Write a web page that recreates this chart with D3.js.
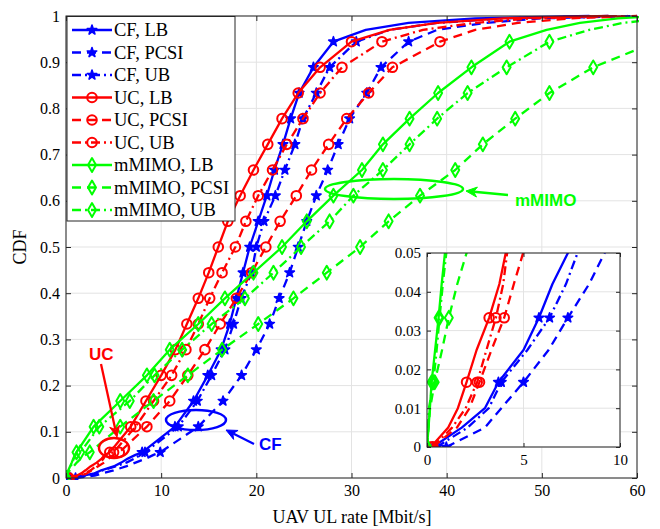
<!DOCTYPE html>
<html><head><meta charset="utf-8">
<script src="https://cdn.jsdelivr.net/npm/d3@7"></script>
<style>body{margin:0;background:#fff}svg{display:block}</style>
</head><body>
<svg id="c" width="660" height="529"></svg>
<script>
// CDF levels at which each series' rate (x, Mbit/s) is given
const insetLevels = [0, 0.005, 0.01, 0.0167, 0.025, 0.0333, 0.042, 0.05];
const mainLevels = [0.0556, 0.1111, 0.1667, 0.2222, 0.2778, 0.3333, 0.3889, 0.4444, 0.5,
  0.5556, 0.6111, 0.6667, 0.7222, 0.7778, 0.8333, 0.8889, 0.9444];
const tailLevels = [0.97, 0.985, 0.995, 1];

const cfLB   = [0.3, 1.8, 3.0, 3.7, 5.0, 5.8, 6.5, 7.3,
  8.0, 11.45, 13.4, 14.9, 16.3, 17.2, 17.9, 18.6, 19.3, 20.2, 21.1, 21.9, 22.8, 23.6, 24.5, 26.0, 28.1,
  31.5, 36, 43, 55];
const cfPCSI = [1.0, 3.0, 3.85, 5.0, 6.3, 7.3, 8.4, 9.2,
  9.9, 13.9, 16.5, 18.45, 20.0, 21.4, 22.4, 23.5, 24.4, 25.3, 26.3, 27.5, 28.6, 29.8, 31.6, 33.1, 36.0,
  39, 44, 50, 60];
const cfUB   = [0.5, 2.1, 3.2, 3.85, 5.2, 6.35, 7.2, 7.8,
  8.3, 11.8, 13.8, 15.3, 16.7, 17.6, 18.4, 19.5, 20.0, 20.8, 22.0, 23.0, 24.05, 24.9, 26.3, 27.7, 30.5,
  34, 39, 46, 57];
const ucLB   = [0.2, 1.1, 1.6, 2.05, 2.57, 3.22, 3.75, 4.08,
  4.6, 6.8, 8.4, 10.0, 11.5, 12.7, 13.9, 15.0, 16.0, 17.0, 18.3, 19.7, 21.2, 22.7, 24.4, 26.7, 30.0,
  34, 39, 46, 57];
const ucPCSI = [0.3, 1.55, 2.2, 2.72, 3.34, 4.0, 4.5, 4.98,
  5.6, 8.5, 10.9, 12.8, 14.6, 16.2, 17.9, 19.5, 21.0, 22.5, 24.2, 25.8, 27.6, 29.5, 31.8, 34.3, 39.3,
  43, 47.5, 53, 60];
const ucUB   = [0.3, 1.3, 2.0, 2.6, 3.08, 3.57, 3.95, 4.15,
  5.0, 7.3, 9.2, 11.1, 12.6, 13.9, 15.1, 16.4, 17.8, 18.9, 20.2, 21.7, 23.2, 24.9, 26.7, 29.0, 33.2,
  37.5, 43, 49, 59];
const mmLB   = [0, 0.08, 0.15, 0.24, 0.42, 0.6, 0.76, 0.93,
  1.1, 2.9, 5.7, 8.5, 10.9, 13.9, 16.7, 19.7, 22.7, 25.3, 28.1, 31.1, 33.3, 36.1, 39.1, 42.6, 46.6,
  50.5, 54, 58, 62];
const mmPCSI = [0, 0.08, 0.16, 0.4, 0.78, 1.13, 1.57, 2.05,
  2.5, 5.7, 9.2, 12.8, 16.4, 20.2, 23.9, 27.4, 30.9, 33.9, 37.2, 40.9, 43.8, 47.2, 50.8, 55.4, 62.0,
  67, 71, 75, 80];
const mmUB   = [0, 0.05, 0.1, 0.33, 0.5, 0.65, 0.82, 1.0,
  1.5, 3.5, 6.7, 9.3, 12.2, 15.3, 18.8, 21.8, 24.7, 27.7, 30.2, 33.3, 36.1, 39.0, 42.2, 46.3, 50.8,
  55, 58.5, 63, 67];

const seriesNames = ["CF, LB","CF, PCSI","CF, UB","UC, LB","UC, PCSI","UC, UB","mMIMO, LB","mMIMO, PCSI","mMIMO, UB"];
const seriesValues = [cfLB, cfPCSI, cfUB, ucLB, ucPCSI, ucUB, mmLB, mmPCSI, mmUB];
const xTicks = [0,10,20,30,40,50,60];
const yTicks = [0,0.1,0.2,0.3,0.4,0.5,0.6,0.7,0.8,0.9,1];
const insetXTicks = [0,5,10];
const insetYTicks = [0,0.01,0.02,0.03,0.04,0.05];

const allLevels = insetLevels.concat(mainLevels, tailLevels);
const colors = {CF:"#0000ff", UC:"#ff0000", mMIMO:"#00ff00"};
const dashes = {LB:null, PCSI:"9,6", UB:"9,4,2,4"};
const markerOf = {CF:"star", UC:"circle", mMIMO:"diamond"};

const series = seriesNames.map((n,i)=>{
  const [sys, kind] = n.split(", ");
  return {name:n, color:colors[sys], dash:dashes[kind], marker:markerOf[sys],
    pts: seriesValues[i].map((v,j)=>[v, allLevels[j]])};
});

const svg = d3.select("#c");
const W=660,H=529;
const x = d3.scaleLinear([0,60],[66,637]);
const y = d3.scaleLinear([0,1],[478,16]);
const xi = d3.scaleLinear([0,10],[427,620]);
const yi = d3.scaleLinear([0,0.05],[447,253]);
const axisColor = "#262626", gridColor = "#e3e3e3";
const serif = "'Liberation Serif','Times New Roman',serif";

svg.append("rect").attr("width",W).attr("height",H).attr("fill","#fff");

function grid(g, xs, ys, xt, yt){
  g.selectAll(".gx").data(xt).join("line").attr("x1",d=>xs(d)).attr("x2",d=>xs(d))
    .attr("y1",ys.range()[0]).attr("y2",ys.range()[1]).attr("stroke",gridColor).attr("stroke-width",1);
  g.selectAll(".gy").data(yt).join("line").attr("y1",d=>ys(d)).attr("y2",d=>ys(d))
    .attr("x1",xs.range()[0]).attr("x2",xs.range()[1]).attr("stroke",gridColor).attr("stroke-width",1);
}
grid(svg.append("g"), x, y, xTicks, yTicks);

function axes(g, xs, ys, xt, yt, fs, tl){
  const [x0,x1]=xs.range(), [y0,y1]=ys.range();
  g.append("g").attr("transform",`translate(0,${y0})`)
    .call(d3.axisBottom(xs).tickValues(xt).tickSizeInner(-tl).tickSizeOuter(0).tickPadding(7).tickFormat(d3.format("")));
  g.append("g").attr("transform",`translate(0,${y1})`)
    .call(d3.axisTop(xs).tickValues(xt).tickSizeInner(-tl).tickSizeOuter(0).tickFormat(""));
  g.append("g").attr("transform",`translate(${x0},0)`)
    .call(d3.axisLeft(ys).tickValues(yt).tickSizeInner(-tl).tickSizeOuter(0).tickPadding(6).tickFormat(d3.format("")));
  g.append("g").attr("transform",`translate(${x1},0)`)
    .call(d3.axisRight(ys).tickValues(yt).tickSizeInner(-tl).tickSizeOuter(0).tickFormat(""));
  g.selectAll(".domain").remove();
  g.selectAll(".tick line").attr("stroke",axisColor);
  g.selectAll(".tick text").attr("font-family",serif).attr("font-size",fs).attr("fill","#000");
  g.append("rect").attr("x",x0).attr("y",y1).attr("width",x1-x0).attr("height",y0-y1)
    .attr("fill","none").attr("stroke",axisColor).attr("stroke-width",1);
}

const defs = svg.append("defs");
defs.append("clipPath").attr("id","cm").append("rect").attr("x",66).attr("y",14).attr("width",573).attr("height",466);
defs.append("clipPath").attr("id","ci").append("rect").attr("x",427).attr("y",253).attr("width",193).attr("height",194);

function symbolFor(m){
  if(m==="star") return d3.symbol(d3.symbolStar, 28)();
  if(m==="circle") return d3.symbol(d3.symbolCircle, 72)();
  return d3.symbol(d3.symbolDiamond, 55)();
}

function drawSeries(g, xs, ys, s, pts, markerPts){
  g.append("path").datum(pts).attr("d", d3.line().x(d=>xs(d[0])).y(d=>ys(d[1])))
    .attr("fill","none").attr("stroke",s.color).attr("stroke-width",2.3)
    .attr("stroke-dasharray",s.dash).attr("stroke-linejoin","round");
  g.selectAll(null).data(markerPts).join("path")
    .attr("transform",d=>`translate(${xs(d[0])},${ys(d[1])})`)
    .attr("d",symbolFor(s.marker))
    .attr("fill", s.marker==="star" ? s.color : "none")
    .attr("stroke",s.color).attr("stroke-width", s.marker==="star"?1.6:2).attr("stroke-linejoin","round");
}

const gm = svg.append("g").attr("clip-path","url(#cm)");
const mainMarkerLevels = [0].concat(mainLevels);
series.forEach(s=>{
  const mk = s.pts.filter(p=>mainMarkerLevels.includes(p[1]));
  drawSeries(gm, x, y, s, s.pts, mk);
});

axes(svg.append("g"), x, y, xTicks, yTicks, 16, 5);

svg.append("text").attr("x",352).attr("y",523).attr("text-anchor","middle")
  .attr("font-family",serif).attr("font-size",18).text("UAV UL rate [Mbit/s]");
svg.append("text").attr("transform","translate(26,247) rotate(-90)").attr("text-anchor","middle")
  .attr("font-family",serif).attr("font-size",18).text("CDF");

const sans = "'Liberation Sans',Arial,sans-serif";
function arrow(x1,y1,x2,y2,color){
  const ang = Math.atan2(y2-y1,x2-x1), L=11, w=5;
  const bx = x2 - L*Math.cos(ang), by = y2 - L*Math.sin(ang);
  svg.append("line").attr("x1",x1).attr("y1",y1).attr("x2",bx+3*Math.cos(ang)).attr("y2",by+3*Math.sin(ang))
    .attr("stroke",color).attr("stroke-width",2.3);
  const px=-Math.sin(ang), py=Math.cos(ang);
  const pts=[[x2,y2],[bx+w*px,by+w*py],[x2-L*0.7*Math.cos(ang),y2-L*0.7*Math.sin(ang)],[bx-w*px,by-w*py]];
  svg.append("path").attr("d","M"+pts.map(p=>p.join(",")).join("L")+"Z").attr("fill",color).attr("stroke",color).attr("stroke-width",1);
}
svg.append("ellipse").attr("cx",394).attr("cy",189).attr("rx",69).attr("ry",10)
  .attr("fill","none").attr("stroke",colors.mMIMO).attr("stroke-width",2.5);
arrow(508,195,466,191,colors.mMIMO);
svg.append("text").attr("x",515).attr("y",206).attr("font-family",sans).attr("font-weight","bold")
  .attr("font-size",17).attr("fill",colors.mMIMO).text("mMIMO");

svg.append("ellipse").attr("cx",196).attr("cy",420).attr("rx",30).attr("ry",10)
  .attr("fill","none").attr("stroke",colors.CF).attr("stroke-width",2.5);
arrow(254,444,226,430,colors.CF);
svg.append("text").attr("x",259).attr("y",450).attr("font-family",sans).attr("font-weight","bold")
  .attr("font-size",17).attr("fill",colors.CF).text("CF");

svg.append("ellipse").attr("cx",114).attr("cy",448).attr("rx",15).attr("ry",10)
  .attr("fill","none").attr("stroke",colors.UC).attr("stroke-width",2.5);
arrow(101,364,117,437,colors.UC);
svg.append("text").attr("x",89).attr("y",360).attr("font-family",sans).attr("font-weight","bold")
  .attr("font-size",17).attr("fill",colors.UC).text("UC");

svg.append("rect").attr("x",427).attr("y",253).attr("width",193).attr("height",194).attr("fill","#fff");
grid(svg.append("g"), xi, yi, insetXTicks, insetYTicks);
const gi = svg.append("g").attr("clip-path","url(#ci)");
const insetMarkerLevels = [0, 0.0167, 0.0333];
series.forEach(s=>{
  const pts = s.pts.filter(p=>p[1]<=0.0556);
  const mk = s.pts.filter(p=>insetMarkerLevels.includes(p[1]));
  drawSeries(gi, xi, yi, s, pts, mk);
});
axes(svg.append("g"), xi, yi, insetXTicks, insetYTicks, 15, 4);

const lg = svg.append("g");
lg.append("rect").attr("x",67).attr("y",16.5).attr("width",168).attr("height",204.5)
  .attr("fill","#fff").attr("stroke",axisColor).attr("stroke-width",1);
series.forEach((s,i)=>{
  const cy = 30 + i*22.5;
  lg.append("line").attr("x1",72).attr("x2",112).attr("y1",cy).attr("y2",cy)
    .attr("stroke",s.color).attr("stroke-width",2.3).attr("stroke-dasharray",s.dash);
  lg.append("path").attr("transform",`translate(92,${cy})`).attr("d",symbolFor(s.marker))
    .attr("fill", s.marker==="star" ? s.color : "none")
    .attr("stroke",s.color).attr("stroke-width", s.marker==="star"?1.6:2).attr("stroke-linejoin","round");
  lg.append("text").attr("x",114).attr("y",cy+6).attr("font-family",serif).attr("font-size",18.5)
    .attr("fill","#000").text(s.name);
});
</script>
</body></html>
